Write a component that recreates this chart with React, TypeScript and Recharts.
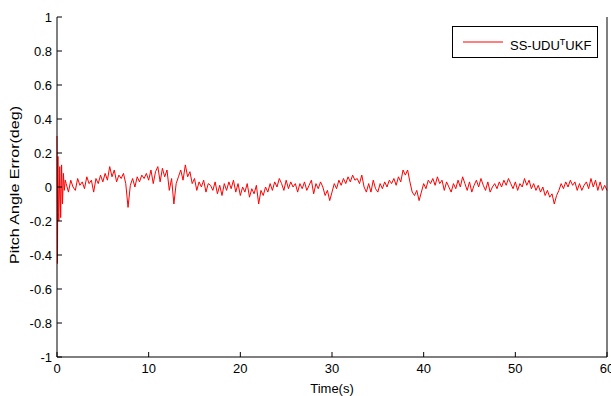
import React from "react";
import { LineChart, Line, XAxis, YAxis, Legend } from "recharts";

const FONT = "'Liberation Sans', Arial, Helvetica, sans-serif";

// initial transient (s, deg)
const initTimes = [0, 0.05, 0.1, 0.15, 0.2, 0.3, 0.4, 0.5, 0.6, 0.7, 0.8, 0.9];
const initErrors = [0.3, -0.45, 0.18, -0.15, -0.2, 0.12, -0.18, 0.13, -0.1, 0.08, -0.02, 0.04];

// steady part, sampled every 0.25 s from t = 1 s
const sampleStart = 1;
const sampleStep = 0.25;
const pitchErrors = [
  0.02, -0.03, 0.04, 0.0,
  -0.02, 0.05, 0.01, 0.03,
  -0.01, 0.06, 0.02, 0.04,
  -0.03, 0.05, 0.02, 0.07,
  0.03, 0.08, 0.04, 0.12,
  0.06, 0.1, 0.03, 0.07,
  0.05, 0.08, 0.02, -0.12,
  0.01, 0.05, 0.0, 0.06,
  0.03, 0.07, 0.05, 0.08,
  0.04, 0.1, 0.02, 0.09,
  0.12, 0.03, 0.11, 0.06,
  0.1, -0.02, 0.05, -0.1,
  0.02, 0.06, 0.1, 0.04,
  0.13, 0.06, 0.09, 0.02,
  0.05, -0.02, 0.03, 0.0,
  0.04, -0.03, 0.02, 0.01,
  -0.02, 0.03, -0.04, 0.01,
  -0.05, 0.02, -0.02, 0.03,
  -0.01, 0.04, -0.03, 0.02,
  -0.05, 0.0, -0.03, 0.02,
  -0.06, -0.01, -0.04, 0.01,
  -0.1, -0.02, -0.05, 0.0,
  -0.03, 0.02, -0.02, 0.03,
  0.0, 0.05, 0.02, -0.02,
  0.04, -0.01, 0.03, 0.0,
  0.02, -0.03, 0.02, -0.01,
  0.03, -0.02, 0.01, 0.04,
  -0.04, 0.02, -0.01, 0.03,
  0.0, -0.05, -0.02, -0.08,
  -0.03, 0.02, -0.01, 0.04,
  0.01, 0.05, 0.02, 0.06,
  0.03, 0.07, 0.04, 0.05,
  0.02, 0.07, 0.0, -0.03,
  0.02, -0.03, 0.04, -0.01,
  -0.03, 0.02, -0.01, 0.03,
  0.0, 0.04, 0.02, 0.05,
  0.01, 0.06, 0.03, 0.1,
  0.07, 0.1, 0.03, -0.03,
  -0.05, -0.02, -0.08, -0.03,
  0.02, -0.01, 0.04, 0.02,
  0.05, 0.01, 0.06, 0.02,
  0.04, -0.02, 0.03, 0.0,
  -0.03, 0.02, -0.01, 0.04,
  0.0, 0.06, 0.02, -0.02,
  0.03, -0.03, 0.01, 0.04,
  0.0, 0.05, 0.01, -0.02,
  0.03, -0.03, 0.0, 0.02,
  -0.01, 0.03, 0.0, 0.04,
  0.01, 0.05, 0.02, -0.01,
  0.03, -0.02, 0.02, 0.0,
  0.05, 0.01, 0.04, -0.01,
  0.02, -0.02, 0.01, -0.03,
  0.0, -0.05, -0.02, -0.06,
  -0.04, -0.1, -0.05, -0.02,
  0.02, -0.01, 0.03, 0.0,
  0.04, 0.01, 0.03, -0.02,
  0.02, -0.02, 0.01, 0.03,
  -0.01, 0.05, 0.0, 0.04,
  -0.02, 0.03, -0.02, 0.01,
  -0.02,
];

const xTicks = [0, 10, 20, 30, 40, 50, 60];
const yTicks = [-1, -0.8, -0.6, -0.4, -0.2, 0, 0.2, 0.4, 0.6, 0.8, 1];

const seriesName = "SS-UDU";
const seriesSup = "T";
const seriesTail = "UKF";
const xLabel = "Time(s)";
const yLabel = "Pitch Angle Error(deg)";

const data = [
  ...initTimes.map((t, i) => ({ t, err: initErrors[i] })),
  ...pitchErrors.map((v, i) => ({ t: sampleStart + i * sampleStep, err: v })),
];

const TICK_LEN = 5;
const FS = 13;

const LeftTick = (props: any) => {
  const { x, y, payload } = props;
  return (
    <g>
      <line x1={x} x2={x + TICK_LEN} y1={y} y2={y} stroke="#000" strokeWidth={1} />
      <text x={x - 5} y={y} dy="0.36em" textAnchor="end" fontSize={FS} fontFamily={FONT} fill="#000">
        {String(payload.value)}
      </text>
    </g>
  );
};

const BottomTick = (props: any) => {
  const { x, y, payload } = props;
  return (
    <g>
      <line x1={x} x2={x} y1={y} y2={y - TICK_LEN} stroke="#000" strokeWidth={1} />
      <text x={x} y={y + 16} textAnchor="middle" fontSize={FS} fontFamily={FONT} fill="#000">
        {String(payload.value)}
      </text>
    </g>
  );
};

const RightTick = (props: any) => {
  const { x, y } = props;
  return <line x1={x} x2={x - TICK_LEN} y1={y} y2={y} stroke="#000" strokeWidth={1} />;
};

const TopTick = (props: any) => {
  const { x, y } = props;
  return <line x1={x} x2={x} y1={y} y2={y + TICK_LEN} stroke="#000" strokeWidth={1} />;
};

const XLabel = (props: any) => {
  const vb = props.viewBox;
  return (
    <text x={vb.x + vb.width / 2} y={vb.y + 36} textAnchor="middle" fontSize={FS} fontFamily={FONT} fill="#000">
      {xLabel}
    </text>
  );
};

const YLabel = (props: any) => {
  const vb = props.viewBox;
  const cx = vb.x + 14;
  const cy = vb.y + vb.height / 2 - 2;
  return (
    <text
      x={cx}
      y={cy}
      dy="0.36em"
      transform={`rotate(-90 ${cx} ${cy})`}
      textAnchor="middle"
      fontSize={FS}
      fontFamily={FONT}
      fill="#000"
      textLength={158}
      lengthAdjust="spacingAndGlyphs"
    >
      {yLabel}
    </text>
  );
};

const LegendBox = (props: any) => {
  const color = props.payload && props.payload[0] ? props.payload[0].color : "#ff0000";
  return (
    <div
      style={{
        width: 146,
        height: 32,
        boxSizing: "border-box",
        border: "1px solid #000",
        background: "#fff",
        position: "relative",
        fontFamily: FONT,
        fontSize: FS,
      }}
    >
      <svg width={50} height={30} style={{ position: "absolute", left: 0, top: 0 }}>
        <line x1={10} x2={51} y1={15} y2={15} stroke={color} strokeWidth={1} />
      </svg>
      <div style={{ position: "absolute", left: 57, top: 8, whiteSpace: "nowrap", lineHeight: "15px" }}>
        {seriesName}
        <sup style={{ fontSize: 9, verticalAlign: "5px" }}>{seriesSup}</sup>
        {seriesTail}
      </div>
    </div>
  );
};

export default function App() {
  return (
    <div style={{ position: "absolute", left: 0, top: 0 }}>
      <LineChart width={611} height={396} data={data} margin={{ top: 17, right: 0, bottom: 0, left: 0 }}>
        <XAxis
          xAxisId="main"
          dataKey="t"
          type="number"
          domain={[0, 60]}
          ticks={xTicks}
          interval={0}
          height={39}
          tickSize={0}
          tickMargin={0}
          tickLine={false}
          axisLine={{ stroke: "#000", strokeWidth: 1 }}
          tick={<BottomTick />}
          label={<XLabel />}
        />
        <XAxis
          xAxisId="top"
          orientation="top"
          dataKey="t"
          type="number"
          domain={[0, 60]}
          ticks={xTicks}
          interval={0}
          height={0}
          tickSize={0}
          tickMargin={0}
          tickLine={false}
          axisLine={{ stroke: "#000", strokeWidth: 1 }}
          tick={<TopTick />}
        />
        <YAxis
          yAxisId="main"
          type="number"
          domain={[-1, 1]}
          ticks={yTicks}
          interval={0}
          width={57}
          tickSize={0}
          tickMargin={0}
          tickLine={false}
          axisLine={{ stroke: "#000", strokeWidth: 1 }}
          tick={<LeftTick />}
          label={<YLabel />}
        />
        <YAxis
          yAxisId="right"
          orientation="right"
          type="number"
          domain={[-1, 1]}
          ticks={yTicks}
          interval={0}
          width={4}
          tickSize={0}
          tickMargin={0}
          tickLine={false}
          axisLine={{ stroke: "#000", strokeWidth: 1 }}
          tick={<RightTick />}
        />
        <Legend
          layout="horizontal"
          verticalAlign="middle"
          align="center"
          wrapperStyle={{ left: 452, top: 26, width: 146, height: 32 }}
          content={<LegendBox />}
        />
        <Line
          xAxisId="main"
          yAxisId="main"
          type="linear"
          dataKey="err"
          name="SS-UDUTUKF"
          stroke="#ff0000"
          strokeWidth={1}
          dot={false}
          isAnimationActive={false}
        />
      </LineChart>
    </div>
  );
}
